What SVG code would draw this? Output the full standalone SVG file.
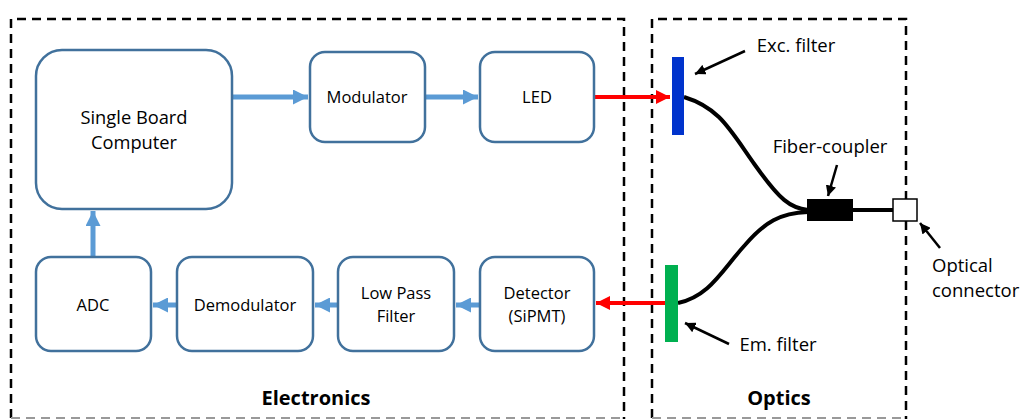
<svg xmlns="http://www.w3.org/2000/svg" width="1021" height="419" viewBox="0 0 1021 419">
<style>
.box{fill:#fff;stroke:#41719C;stroke-width:2.5}
.t{font-family:"Open Sans","Liberation Sans",sans-serif;font-size:16.5px;fill:#000;text-anchor:middle}
.s{font-size:18.3px}
.l{font-family:"Open Sans","Liberation Sans",sans-serif;font-size:18.5px;fill:#000;text-anchor:middle}
.b{font-family:"Open Sans","Liberation Sans",sans-serif;font-size:20px;font-weight:bold;fill:#000;text-anchor:middle}
.dash{fill:none;stroke:#000;stroke-width:2.5;stroke-dasharray:9,6}
.blue{stroke:#5B9BD5;stroke-width:5;fill:none}
.red{stroke:#FF0000;stroke-width:4;fill:none}
.fib{stroke:#000;stroke-width:4;fill:none}
.pt{stroke:#000;stroke-width:2.5;fill:none}
</style>
<defs>
<marker id="ab" viewBox="0 0 10 10" refX="10" refY="5" markerWidth="3" markerHeight="3" orient="auto" markerUnits="strokeWidth"><path d="M0,0L10,5L0,10z" fill="#5B9BD5"/></marker>
<marker id="ar" viewBox="0 0 10 10" refX="10" refY="5" markerWidth="3.5" markerHeight="3.5" orient="auto" markerUnits="strokeWidth"><path d="M0,0L10,5L0,10z" fill="#FF0000"/></marker>
<marker id="ak" viewBox="0 0 10 10" refX="10" refY="5" markerWidth="4.2" markerHeight="4.2" orient="auto" markerUnits="strokeWidth"><path d="M0,0L10,5L0,10z" fill="#000"/></marker>
</defs>
<rect width="1021" height="419" fill="#fff"/>
<g id="electronics-frame">
<path class="dash" d="M11,418V19H624V419"/>
<line x1="11" y1="418" x2="624" y2="418" stroke="#999" stroke-width="2" stroke-dasharray="9,6"/>
<text class="b" x="316" y="405">Electronics</text>
</g>
<g id="optics-frame">
<path class="dash" d="M652,418V19H906V419"/>
<line x1="652" y1="418" x2="906" y2="418" stroke="#999" stroke-width="2" stroke-dasharray="9,6"/>
<text class="b" x="779" y="405">Optics</text>
</g>
<g id="connectors">
<line class="blue" x1="232" y1="97" x2="308" y2="97" marker-end="url(#ab)"/>
<line class="blue" x1="425" y1="97" x2="478" y2="97" marker-end="url(#ab)"/>
<line class="red" x1="594" y1="97" x2="670" y2="97" marker-end="url(#ar)"/>
<line class="red" x1="665" y1="303" x2="596" y2="303" marker-end="url(#ar)"/>
<line class="blue" x1="480" y1="305" x2="456" y2="305" marker-end="url(#ab)"/>
<line class="blue" x1="338" y1="305" x2="315" y2="305" marker-end="url(#ab)"/>
<line class="blue" x1="177" y1="305" x2="153" y2="305" marker-end="url(#ab)"/>
<line class="blue" x1="93" y1="257" x2="93" y2="211" marker-end="url(#ab)"/>
<path class="fib" d="M684,97C720,108 730,130 755,165C780,200 790,208 808,210"/>
<path class="fib" d="M678,303C710,296 722,270 745,245C765,222 780,213 808,212"/>
<line class="fib" x1="853" y1="210" x2="893" y2="210"/>
<line class="pt" x1="745" y1="51" x2="695" y2="74" marker-end="url(#ak)"/>
<line class="pt" x1="837" y1="165" x2="828" y2="196" marker-end="url(#ak)"/>
<line class="pt" x1="940" y1="248" x2="920" y2="223" marker-end="url(#ak)"/>
<line class="pt" x1="729" y1="344" x2="685" y2="323" marker-end="url(#ak)"/>
</g>
<g id="sbc"><rect class="box" x="36" y="50" width="196" height="159" rx="26"/><text class="t s" x="134" y="124">Single Board</text><text class="t s" x="134" y="149">Computer</text></g>
<g id="modulator"><rect class="box" x="310" y="52" width="115" height="90" rx="15"/><text class="t" x="367" y="103">Modulator</text></g>
<g id="led"><rect class="box" x="480" y="52" width="114" height="90" rx="15"/><text class="t" x="537" y="103">LED</text></g>
<g id="adc"><rect class="box" x="36" y="257" width="115" height="94" rx="15"/><text class="t" x="93" y="311">ADC</text></g>
<g id="demodulator"><rect class="box" x="177" y="257" width="136" height="94" rx="15"/><text class="t" x="245" y="311">Demodulator</text></g>
<g id="lpf"><rect class="box" x="338" y="257" width="116" height="94" rx="15"/><text class="t" x="396" y="299">Low Pass</text><text class="t" x="396" y="322">Filter</text></g>
<g id="detector"><rect class="box" x="480" y="257" width="114" height="94" rx="15"/><text class="t" x="537" y="299">Detector</text><text class="t" x="537" y="322">(SiPMT)</text></g>
<g id="exc-filter"><rect x="672" y="57" width="12" height="78" fill="#0033CC"/><text class="l" x="796" y="52">Exc. filter</text></g>
<g id="em-filter"><rect x="665" y="265" width="13" height="77" fill="#00B050"/><text class="l" x="778" y="351">Em. filter</text></g>
<g id="fiber-coupler"><rect x="807" y="199" width="46" height="22" fill="#000"/><text class="l" x="830" y="153">Fiber-coupler</text></g>
<g id="optical-connector"><rect x="893" y="199" width="24" height="22" fill="#fff" stroke="#000" stroke-width="1.5"/><text class="l" x="932" y="272" style="text-anchor:start">Optical</text><text class="l" x="932" y="297" style="text-anchor:start">connector</text></g>
</svg>
